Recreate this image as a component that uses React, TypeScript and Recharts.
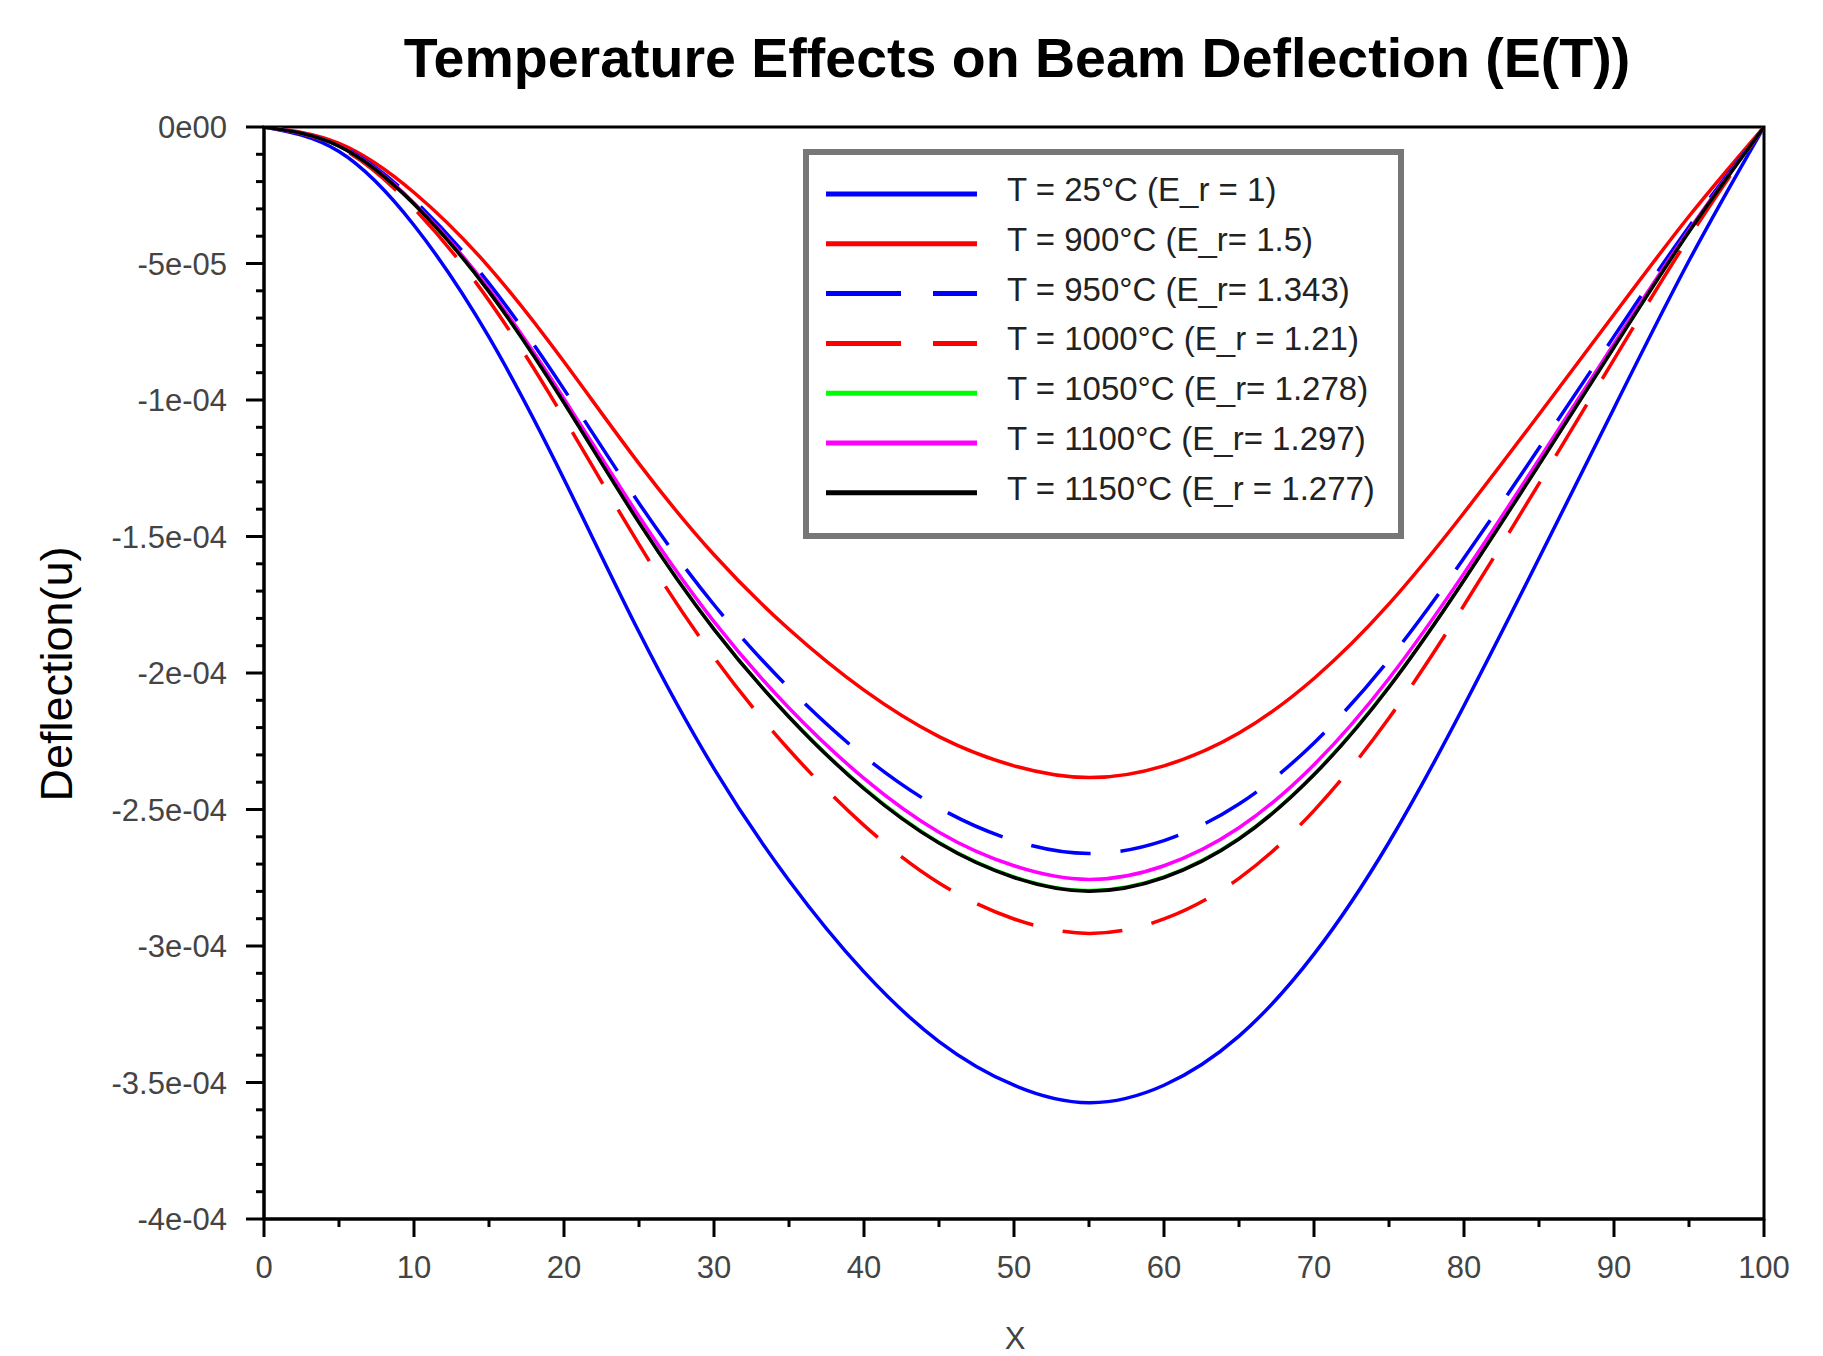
import React from 'react';
import { LineChart, Line, XAxis, YAxis, ReferenceArea, Legend, Customized } from 'recharts';

// x positions along the beam
const X_VALUES = [0, 5, 10, 15, 20, 25, 30, 35, 40, 45, 50, 55, 60, 65, 70, 75, 80, 85, 90, 95, 100];

// Deflection values in units of 1e-4
const DEFL_25C = [0, -0.09, -0.36, -0.77, -1.29, -1.85, -2.35, -2.76, -3.095, -3.35, -3.51, -3.574, -3.51, -3.33, -3.03, -2.62, -2.12, -1.58, -1.03, -0.49, 0];
const DEFL_900C = [0, -0.060, -0.240, -0.513, -0.860, -1.233, -1.567, -1.840, -2.063, -2.233, -2.340, -2.383, -2.340, -2.220, -2.020, -1.747, -1.413, -1.053, -0.687, -0.327, 0];
const DEFL_950C = [0, -0.067, -0.268, -0.573, -0.961, -1.378, -1.750, -2.055, -2.305, -2.494, -2.614, -2.661, -2.614, -2.480, -2.256, -1.951, -1.579, -1.176, -0.767, -0.365, 0];
const DEFL_1000C = [0, -0.074, -0.298, -0.636, -1.066, -1.529, -1.942, -2.281, -2.558, -2.769, -2.901, -2.954, -2.901, -2.752, -2.504, -2.165, -1.752, -1.306, -0.851, -0.405, 0];
const DEFL_1050C = [0, -0.070, -0.282, -0.603, -1.009, -1.448, -1.839, -2.160, -2.422, -2.621, -2.747, -2.797, -2.747, -2.606, -2.371, -2.050, -1.659, -1.236, -0.806, -0.383, 0];
const DEFL_1100C = [0, -0.069, -0.278, -0.594, -0.995, -1.426, -1.812, -2.128, -2.386, -2.583, -2.706, -2.756, -2.706, -2.567, -2.336, -2.020, -1.635, -1.218, -0.794, -0.378, 0];
const DEFL_1150C = [0, -0.070, -0.282, -0.603, -1.010, -1.449, -1.840, -2.161, -2.424, -2.623, -2.749, -2.799, -2.749, -2.608, -2.373, -2.052, -1.660, -1.237, -0.807, -0.384, 0];

const SERIES_NAMES = [
  'T = 25°C (E_r = 1)',
  'T = 900°C (E_r= 1.5)',
  'T = 950°C (E_r= 1.343)',
  'T = 1000°C (E_r = 1.21)',
  'T = 1050°C (E_r= 1.278)',
  'T = 1100°C (E_r= 1.297)',
  'T = 1150°C (E_r = 1.277)',
];

const X_MAJOR_TICKS = [0, 10, 20, 30, 40, 50, 60, 70, 80, 90, 100];
const X_ALL_TICKS = [0, 5, 10, 15, 20, 25, 30, 35, 40, 45, 50, 55, 60, 65, 70, 75, 80, 85, 90, 95, 100];
const Y_MAJOR_TICKS = [0, -0.5, -1, -1.5, -2, -2.5, -3, -3.5, -4];
const Y_TICK_LABELS = ['0e00', '-5e-05', '-1e-04', '-1.5e-04', '-2e-04', '-2.5e-04', '-3e-04', '-3.5e-04', '-4e-04'];
const Y_ALL_TICKS = Array.from({ length: 41 }, (_, i) => -i / 10);

const SERIES = [
  { key: 's25', data: DEFL_25C, color: '#0000ff', dash: undefined as string | undefined },
  { key: 's900', data: DEFL_900C, color: '#ff0000', dash: undefined },
  { key: 's950', data: DEFL_950C, color: '#0000ff', dash: '60 30' },
  { key: 's1000', data: DEFL_1000C, color: '#ff0000', dash: '60 30' },
  { key: 's1050', data: DEFL_1050C, color: '#00ff00', dash: undefined },
  { key: 's1100', data: DEFL_1100C, color: '#ff00ff', dash: undefined },
  { key: 's1150', data: DEFL_1150C, color: '#000000', dash: undefined },
];

const rows = X_VALUES.map((x, i) => {
  const r: Record<string, number> = { x };
  SERIES.forEach((s) => {
    r[s.key] = s.data[i];
  });
  return r;
});

const W = 1823;
const H = 1356;
const PLOT_LEFT = 264;
const PLOT_RIGHT = 1764;
const PLOT_TOP = 127;
const PLOT_BOTTOM = 1219;
const FONT = '"Liberation Sans", Arial, Helvetica, sans-serif';

const YTick = (props: any) => {
  const { y, payload } = props;
  const v = payload.value as number;
  const idx = Y_MAJOR_TICKS.findIndex((m) => Math.abs(m - v) < 1e-6);
  const major = idx >= 0;
  return (
    <g>
      <line x1={PLOT_LEFT - (major ? 18 : 8)} x2={PLOT_LEFT} y1={y} y2={y} stroke="#000" strokeWidth={3} />
      {major && (
        <text x={PLOT_LEFT - 37} y={y + 11} textAnchor="end" fontSize={31} fill="#444" fontFamily={FONT}>
          {Y_TICK_LABELS[idx]}
        </text>
      )}
    </g>
  );
};

const XTick = (props: any) => {
  const { x, payload } = props;
  const v = payload.value as number;
  const major = X_MAJOR_TICKS.includes(v);
  return (
    <g>
      <line x1={x} x2={x} y1={PLOT_BOTTOM} y2={PLOT_BOTTOM + (major ? 18 : 8)} stroke="#000" strokeWidth={3} />
      {major && (
        <text x={x} y={1278} textAnchor="middle" fontSize={31} fill="#444" fontFamily={FONT}>
          {String(v)}
        </text>
      )}
    </g>
  );
};

const LEG_LEFT = 803;
const LEG_TOP = 149;
const LEG_W = 601;
const LEG_H = 390;

const LegendBox = () => (
  <svg width={LEG_W} height={LEG_H} style={{ display: 'block' }}>
    <rect x={3} y={3} width={LEG_W - 6} height={LEG_H - 6} fill="#fff" stroke="#777" strokeWidth={6} />
    {SERIES.map((s, i) => {
      const cy = 45 + i * 49.8;
      return (
        <g key={s.key}>
          <line x1={23} x2={174} y1={cy} y2={cy} stroke={s.color} strokeWidth={5} strokeDasharray={s.dash ? '75 32' : undefined} />
          <text x={204} y={cy + 7} fontSize={33} fill="#222" fontFamily={FONT}>
            {SERIES_NAMES[i]}
          </text>
        </g>
      );
    })}
  </svg>
);

const Labels = () => (
  <g fontFamily={FONT}>
    <text x={1017} y={77} textAnchor="middle" fontSize={55.5} fontWeight="bold" fill="#000">
      Temperature Effects on Beam Deflection (E(T))
    </text>
    <text x={72} y={674} textAnchor="middle" fontSize={45} fill="#000" transform="rotate(-90, 72, 674)">
      Deflection(u)
    </text>
    <text x={1015} y={1349} textAnchor="middle" fontSize={31} fill="#444">
      X
    </text>
  </g>
);

export default function App() {
  return (
    <div style={{ position: 'absolute', left: 0, top: 0, width: W, height: H, overflow: 'hidden', background: '#fff' }}>
      <LineChart width={W} height={H} data={rows} margin={{ top: PLOT_TOP, right: W - PLOT_RIGHT, bottom: 0, left: 0 }}>
        <XAxis
          dataKey="x"
          type="number"
          domain={[0, 100]}
          ticks={X_ALL_TICKS}
          interval={0}
          height={H - PLOT_BOTTOM}
          tickLine={false}
          tick={<XTick />}
          axisLine={{ stroke: '#000', strokeWidth: 3 }}
          allowDataOverflow
        />
        <YAxis
          type="number"
          domain={[-4, 0]}
          ticks={Y_ALL_TICKS}
          interval={0}
          width={PLOT_LEFT}
          tickLine={false}
          tick={<YTick />}
          axisLine={{ stroke: '#000', strokeWidth: 3 }}
          allowDataOverflow
        />
        <ReferenceArea x1={0} x2={100} y1={-4} y2={0} fill="none" stroke="#000" strokeWidth={3} fillOpacity={0} />
        {SERIES.map((s, i) => (
          <Line
            key={s.key}
            dataKey={s.key}
            name={SERIES_NAMES[i]}
            type="natural"
            stroke={s.color}
            strokeWidth={3.5}
            strokeDasharray={s.dash}
            dot={false}
            activeDot={false}
            isAnimationActive={false}
          />
        ))}
        <Legend
          layout="vertical"
          align="center"
          verticalAlign="middle"
          wrapperStyle={{ position: 'absolute', left: LEG_LEFT, top: LEG_TOP, width: LEG_W, height: LEG_H }}
          content={() => <LegendBox />}
        />
        <Customized component={Labels} />
      </LineChart>
    </div>
  );
}
